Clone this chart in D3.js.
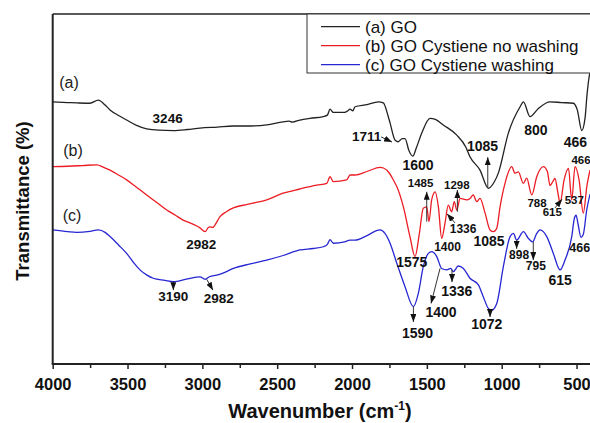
<!DOCTYPE html>
<html lang="en">
<head>
<meta charset="UTF-8">
<title>FTIR spectra</title>
<script src="https://cdn.jsdelivr.net/npm/d3@7"></script>
<style>
    body { margin: 0; background: #fff; }
    svg text { font-family: "Liberation Sans", Arial, sans-serif; }
</style>
</head>
<body>
<svg id="chart" width="590" height="423"></svg>
<script>
    // [wavenumber (cm-1), transmittance (offset, %)]
    const goCurve = [
        [4000, 74.9], [3900, 74.7], [3840, 74.6], [3751, 74.5], [3695, 75.4], [3650, 74.0], [3617, 72.6],
        [3560, 71.0], [3506, 69.7], [3440, 68.2], [3372, 67.2], [3290, 66.8], [3194, 66.7], [3100, 67.0],
        [3016, 67.4], [2900, 67.7], [2793, 68.0], [2680, 68.0], [2570, 68.3], [2461, 69.2], [2420, 69.4],
        [2400, 69.1], [2348, 69.7], [2281, 70.2], [2192, 70.7], [2165, 71.1], [2147, 72.8], [2125, 71.9],
        [2050, 71.9], [2030, 72.3], [2013, 72.8], [1995, 72.3], [1980, 73.5], [1900, 74.1], [1824, 74.9],
        [1791, 74.6], [1760, 71.0], [1746, 68.9], [1713, 64.0], [1691, 63.5], [1665, 64.4], [1646, 64.4],
        [1620, 61.0], [1594, 59.4], [1570, 61.8], [1534, 66.0], [1479, 70.2], [1440, 69.8], [1390, 68.3],
        [1300, 65.4], [1240, 62.0], [1212, 59.2], [1145, 55.4], [1089, 50.2], [1050, 52.0], [1022, 54.6],
        [956, 65.9], [877, 73.5], [855, 74.9], [811, 70.7], [755, 73.0], [677, 74.9], [600, 74.7],
        [521, 74.5], [495, 72.6], [465, 66.7], [443, 70.3], [430, 76.9], [416, 82.0], [405, 84.0]
    ];
    const noWashCurve = [
        [4000, 56.4], [3900, 56.5], [3800, 56.7], [3706, 56.9], [3660, 56.2], [3617, 55.4], [3560, 54.0],
        [3506, 52.6], [3440, 50.5], [3372, 48.3], [3300, 46.0], [3238, 44.0], [3180, 42.5], [3129, 41.1],
        [3083, 40.3], [3040, 39.5], [3016, 38.9], [2982, 37.8], [2960, 39.0], [2949, 39.2], [2930, 39.0],
        [2916, 39.7], [2882, 42.1], [2840, 43.5], [2793, 44.6], [2700, 45.6], [2615, 46.4], [2570, 46.9],
        [2461, 48.8], [2350, 50.0], [2236, 51.1], [2169, 51.6], [2147, 53.5], [2125, 52.1], [2036, 52.6],
        [2013, 54.0], [1980, 54.0], [1900, 55.0], [1813, 56.2], [1790, 56.0], [1750, 54.5], [1723, 52.5],
        [1701, 50.7], [1657, 44.9], [1613, 36.4], [1579, 30.7], [1550, 37.3], [1524, 44.5], [1501, 44.9],
        [1486, 40.7], [1468, 46.9], [1445, 49.2], [1423, 44.9], [1401, 35.9], [1379, 40.2], [1357, 45.4],
        [1334, 43.5], [1317, 46.4], [1300, 44.0], [1278, 47.3], [1234, 46.9], [1212, 47.3], [1190, 48.3],
        [1167, 46.4], [1145, 47.3], [1111, 43.1], [1078, 38.3], [1056, 37.8], [1033, 38.8], [1011, 44.9],
        [978, 51.6], [933, 56.4], [911, 54.5], [889, 54.9], [855, 51.6], [833, 53.1], [799, 48.3],
        [766, 53.5], [722, 56.4], [695, 55.0], [677, 51.0], [660, 52.0], [644, 53.0], [625, 49.0],
        [610, 46.0], [583, 52.6], [554, 55.9], [532, 46.9], [510, 56.4], [483, 52.6], [455, 43.1],
        [430, 51.1], [410, 55.4]
    ];
    const washCurve = [
        [4000, 38.3], [3900, 37.8], [3840, 37.6], [3750, 37.9], [3695, 38.3], [3650, 37.6], [3617, 36.4],
        [3560, 34.0], [3506, 31.6], [3460, 29.0], [3417, 26.9], [3370, 25.4], [3328, 24.5], [3250, 23.9],
        [3194, 23.5], [3100, 24.3], [3016, 24.9], [2982, 24.2], [2950, 25.0], [2904, 25.4], [2850, 26.2],
        [2793, 27.3], [2680, 28.6], [2570, 29.7], [2460, 31.0], [2348, 32.6], [2260, 33.0], [2192, 33.5],
        [2165, 34.2], [2147, 35.5], [2125, 34.5], [2050, 34.9], [2013, 35.4], [1980, 35.4], [1900, 36.7],
        [1813, 38.3], [1780, 37.3], [1746, 34.5], [1701, 28.8], [1646, 22.1], [1590, 16.4], [1557, 20.2],
        [1524, 27.8], [1490, 31.6], [1468, 32.1], [1434, 30.7], [1401, 27.3], [1367, 26.9], [1341, 27.3],
        [1323, 26.4], [1290, 28.0], [1256, 27.3], [1212, 24.5], [1156, 22.6], [1123, 19.2], [1089, 15.9],
        [1067, 15.4], [1033, 17.3], [989, 27.8], [944, 36.4], [922, 37.3], [900, 35.4], [855, 37.8],
        [822, 35.9], [793, 34.9], [766, 37.3], [744, 38.3], [699, 36.4], [655, 31.6], [610, 26.9],
        [577, 29.7], [532, 36.4], [515, 41.5], [503, 42.5], [490, 40.0], [470, 36.2], [455, 37.0],
        [432, 44.0], [410, 48.5]
    ];

    const seriesNames = ["(a) GO", "(b) GO Cystiene no washing", "(c) GO Cystiene washing"];
    const seriesColors = ["#222222", "#ec1c24", "#2626d2"];
    const curveTags = [
        { text: "(a)", w: 3891, t: 80.6 },
        { text: "(b)", w: 3864, t: 61.1 },
        { text: "(c)", w: 3871, t: 42.6 }
    ];

    const majorTicks = [4000, 3500, 3000, 2500, 2000, 1500, 1000, 500];
    const minorTicks = [3750, 3250, 2750, 2250, 1750, 1250, 750];

    // peak labels at (wavenumber, transmittance)
    const peakLabels = [
        { text: "3246", w: 3232, t: 70.2, size: 13.5 },
        { text: "1711", w: 1902, t: 65.1, size: 13.5 },
        { text: "1600", w: 1559, t: 56.9, size: 14 },
        { text: "1085", w: 1128, t: 62.4, size: 14 },
        { text: "800", w: 772, t: 66.7, size: 14 },
        { text: "466", w: 508, t: 63.5, size: 14 },
        { text: "1485", w: 1542, t: 51.6, size: 11.5 },
        { text: "1298", w: 1300, t: 51.1, size: 11.5 },
        { text: "1336", w: 1258, t: 38.5, size: 12 },
        { text: "1400", w: 1362, t: 33.4, size: 12 },
        { text: "1085", w: 1085, t: 35.1, size: 14 },
        { text: "1575", w: 1601, t: 29.2, size: 14 },
        { text: "2982", w: 3007, t: 34.2, size: 13.5 },
        { text: "788", w: 764, t: 46.1, size: 11.5 },
        { text: "615", w: 662, t: 43.5, size: 11.5 },
        { text: "537", w: 515, t: 46.9, size: 11.5 },
        { text: "466", w: 470, t: 58.2, size: 11.5 },
        { text: "3190", w: 3194, t: 19.4, size: 13.5 },
        { text: "2982", w: 2891, t: 18.9, size: 13.5 },
        { text: "1590", w: 1562, t: 8.8, size: 14 },
        { text: "1400", w: 1405, t: 14.9, size: 14 },
        { text: "1336", w: 1300, t: 20.7, size: 14 },
        { text: "1072", w: 1100, t: 11.3, size: 14 },
        { text: "898", w: 884, t: 31.1, size: 12 },
        { text: "795", w: 772, t: 28.0, size: 12 },
        { text: "615", w: 610, t: 24.0, size: 14 },
        { text: "466", w: 479, t: 33.2, size: 12.5 }
    ];

    // arrows from (w1,t1) to (w2,t2)
    const peakArrows = [
        { w1: 1806, t1: 64.9, w2: 1733, t2: 63.4 },
        { w1: 1093, t1: 50.3, w2: 1093, t2: 59.1 },
        { w1: 1501, t1: 40.7, w2: 1501, t2: 49.2 },
        { w1: 1296, t1: 43.5, w2: 1296, t2: 49.7 },
        { w1: 1312, t1: 40.3, w2: 1365, t2: 42.9 },
        { w1: 644, t1: 44.6, w2: 597, t2: 47.1 },
        { w1: 3194, t1: 23.5, w2: 3194, t2: 21.1 },
        { w1: 2971, t1: 24.2, w2: 2929, t2: 21.1 },
        { w1: 1590, t1: 16.4, w2: 1590, t2: 12.0 },
        { w1: 1412, t1: 27.3, w2: 1472, t2: 17.3 },
        { w1: 1332, t1: 26.9, w2: 1332, t2: 23.4 },
        { w1: 1078, t1: 15.7, w2: 1078, t2: 13.4 },
        { w1: 900, t1: 35.4, w2: 900, t2: 32.9 },
        { w1: 789, t1: 34.9, w2: 789, t2: 29.7 }
    ];

    const svg = d3.select("#chart");
    const x = d3.scaleLinear().domain([4000, 400]).range([52.7, 591.5]);
    const y = d3.scaleLinear().domain([0, 100]).range([364, 14]);

    svg.append("defs").append("marker")
        .attr("id", "head")
        .attr("viewBox", "0 0 10 10")
        .attr("refX", 10).attr("refY", 5)
        .attr("markerWidth", 8).attr("markerHeight", 6)
        .attr("markerUnits", "userSpaceOnUse")
        .attr("preserveAspectRatio", "none")
        .attr("orient", "auto")
        .append("path").attr("d", "M0,0L10,5L0,10z").attr("fill", "#111");

    const line = d3.line()
        .x(d => x(d[0]))
        .y(d => y(d[1]))
        .curve(d3.curveMonotoneX);

    [goCurve, noWashCurve, washCurve].forEach((data, i) => {
        svg.append("path")
            .datum(data)
            .attr("fill", "none")
            .attr("stroke", seriesColors[i])
            .attr("stroke-width", 1.3)
            .attr("d", line);
    });

    // frame
    svg.append("line").attr("x1", x(4000)).attr("x2", 592).attr("y1", y(100)).attr("y2", y(100))
        .attr("stroke", "#222").attr("stroke-width", 1.5);
    svg.append("line").attr("x1", x(4000)).attr("x2", x(4000)).attr("y1", y(100)).attr("y2", y(0))
        .attr("stroke", "#222").attr("stroke-width", 2);

    const minorAxis = svg.append("g").attr("transform", `translate(0,${y(0)})`)
        .call(d3.axisBottom(x).tickValues(minorTicks).tickSize(4).tickFormat(""));
    minorAxis.select(".domain").remove();

    const majorAxis = svg.append("g").attr("transform", `translate(0,${y(0)})`)
        .call(d3.axisBottom(x).tickValues(majorTicks).tickSize(5).tickPadding(9).tickFormat(d3.format("d")));
    majorAxis.select(".domain").remove();
    majorAxis.selectAll("text")
        .attr("font-size", 16.5)
        .attr("font-weight", "bold")
        .attr("fill", "#111")
        .style("font-family", "'Liberation Sans', Arial, sans-serif");
    svg.selectAll(".tick line").attr("stroke", "#222").attr("stroke-width", 1.5);

    svg.append("line").attr("x1", x(4000) - 1).attr("x2", 592).attr("y1", y(0)).attr("y2", y(0))
        .attr("stroke", "#222").attr("stroke-width", 2);

    // axis titles
    const xTitle = svg.append("text")
        .attr("x", 320).attr("y", 418)
        .attr("text-anchor", "middle")
        .attr("font-size", 20).attr("font-weight", "bold").attr("fill", "#111");
    xTitle.append("tspan").text("Wavenumber (cm");
    xTitle.append("tspan").attr("font-size", 12).attr("dy", -8).text("-1");
    xTitle.append("tspan").attr("dy", 8).text(")");

    svg.append("text")
        .attr("transform", "translate(23,201) rotate(-90)")
        .attr("text-anchor", "middle")
        .attr("dy", "0.35em")
        .attr("font-size", 18.5).attr("font-weight", "bold").attr("fill", "#111")
        .text("Transmittance (%)");

    // curve tags
    svg.selectAll(".tag")
        .data(curveTags)
        .enter().append("text")
        .attr("class", "tag")
        .attr("x", d => x(d.w)).attr("y", d => y(d.t))
        .attr("dy", "0.35em")
        .attr("text-anchor", "middle")
        .attr("font-size", 16).attr("fill", "#222")
        .text(d => d.text);

    // peak arrows and labels
    svg.selectAll(".arrow")
        .data(peakArrows)
        .enter().append("line")
        .attr("class", "arrow")
        .attr("x1", d => x(d.w1)).attr("y1", d => y(d.t1))
        .attr("x2", d => x(d.w2)).attr("y2", d => y(d.t2))
        .attr("stroke", "#333").attr("stroke-width", 1)
        .attr("marker-end", "url(#head)");

    svg.selectAll(".peak")
        .data(peakLabels)
        .enter().append("text")
        .attr("class", "peak")
        .attr("x", d => x(d.w)).attr("y", d => y(d.t))
        .attr("dy", "0.35em")
        .attr("text-anchor", "middle")
        .attr("font-size", d => d.size).attr("font-weight", "bold").attr("fill", "#111")
        .text(d => d.text);

    // legend
    const legend = svg.append("g");
    legend.append("rect")
        .attr("x", 307).attr("y", 14).attr("width", 290).attr("height", 59)
        .attr("fill", "#fff").attr("stroke", "#333").attr("stroke-width", 1);
    seriesNames.forEach((name, i) => {
        const ly = 26.7 + i * 19;
        legend.append("line")
            .attr("x1", 321).attr("x2", 360).attr("y1", ly).attr("y2", ly)
            .attr("stroke", seriesColors[i]).attr("stroke-width", 1.3);
        legend.append("text")
            .attr("x", 365).attr("y", ly).attr("dy", "0.35em")
            .attr("font-size", 17).attr("fill", "#111")
            .text(name);
    });
</script>
</body>
</html>
